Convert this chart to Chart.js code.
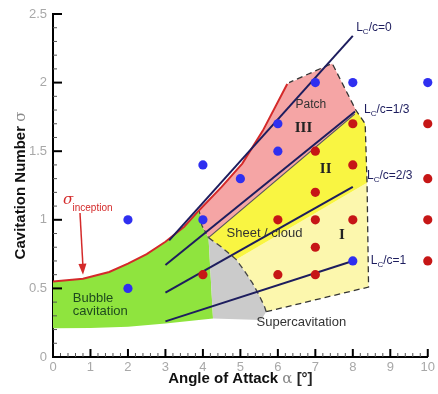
<!DOCTYPE html>
<html>
<head>
<meta charset="utf-8">
<script src="https://cdn.jsdelivr.net/npm/chart.js@4.4.1/dist/chart.umd.min.js"></script>
<style>
  body { margin: 0; background: #fff; }
  #wrap { width: 438px; height: 394px; }
</style>
</head>
<body>
<div id="wrap"><canvas id="chart"></canvas></div>
<script>
// measured points (angle of attack, sigma)
const bluePoints = [[2, 1.0], [2, 0.5], [4, 1.0], [4, 1.4], [5, 1.3], [6, 1.5], [6, 1.7],
                    [7, 2.0], [8, 2.0], [10, 2.0], [8, 0.7]];
const redPoints = [[4, 0.6], [6, 0.6], [7, 0.6], [7, 0.8], [6, 1.0], [7, 1.0], [8, 1.0], [10, 1.0],
                   [10, 0.7], [7, 1.2], [8, 1.4], [7, 1.5], [8, 1.7], [10, 1.7], [10, 1.3]];

// sigma inception curve
const inception = [[0, 0.55], [0.8, 0.57], [1.5, 0.62], [2, 0.68], [2.5, 0.75], [3, 0.84], [3.5, 0.95],
                   [3.9, 1.07], [4.5, 1.24], [5.05, 1.41], [5.6, 1.65], [6.25, 1.99]];

// constant cavity length lines
const lc0 = [[3.1, 0.85], [8.0, 2.34]];
const lc13 = [[3.0, 0.67], [8.06, 1.79]];
const lc23 = [[3.0, 0.47], [8.0, 1.24]];
const lc1 = [[3.0, 0.26], [8.0, 0.70]];

// regime areas
const bubbleArea = [[0, 0.21], [1, 0.212], [2, 0.22], [3, 0.245], [4.27, 0.28], [4.15, 0.87], [3.97, 0.96],
                    [3.9, 1.07], [3.5, 0.95], [3, 0.84], [2.5, 0.75], [2, 0.68], [1.5, 0.62], [0.8, 0.57], [0, 0.55], [0, 0.21]];
const grayArea = [[4.15, 0.87], [4.5, 0.80], [4.89, 0.71], [5.1, 0.63], [5.32, 0.54], [5.5, 0.45], [5.64, 0.37],
                  [5.69, 0.33], [5.55, 0.27], [4.27, 0.28], [4.15, 0.87]];
const sheetArea = [[4.89, 0.71], [8.38, 1.27], [8.42, 0.51], [5.69, 0.33], [5.64, 0.37], [5.5, 0.45],
                   [5.32, 0.54], [5.1, 0.63], [4.89, 0.71]];
const cloudArea = [[4.15, 0.87], [8.05, 1.77], [8.08, 1.80], [8.33, 1.70], [8.38, 1.27], [4.89, 0.71],
                   [4.5, 0.80], [4.15, 0.87]];
const patchArea = [[3.9, 1.07], [4.5, 1.24], [5.05, 1.41], [5.6, 1.65], [6.25, 1.99], [7.45, 2.14],
                   [8.08, 1.80], [8.05, 1.77], [4.15, 0.87], [3.97, 0.96], [3.9, 1.07]];

// dashed borders
const outerDash = [[5.69, 0.33], [8.42, 0.51], [8.38, 1.27], [8.33, 1.70], [8.08, 1.80], [7.45, 2.14], [6.3, 2.0]];
const arcDash = [[4.15, 0.87], [4.5, 0.80], [4.89, 0.71], [5.1, 0.63], [5.32, 0.54], [5.5, 0.45], [5.64, 0.37], [5.69, 0.33]];
const patchDash = [[3.9, 1.07], [3.97, 0.96], [4.15, 0.87]];
const cloudEdge = [[4.15, 0.87], [8.05, 1.77]];

const xTicks = [0, 10, 1];
const yTicks = [0, 2.5, 0.5];

const pts = a => a.map(([x, y]) => ({ x, y }));

function area(d, color, order) {
    return { data: pts(d), showLine: true, fill: 'shape', backgroundColor: color,
             borderColor: 'rgba(0,0,0,0)', borderWidth: 0, pointRadius: 0, tension: 0, order };
}
function line(d, color, width, order, dash) {
    return { data: pts(d), showLine: true, fill: false, borderColor: color, borderWidth: width,
             borderDash: dash || [], pointRadius: 0, tension: 0, order };
}
function dots(d, color) {
    return { data: pts(d), showLine: false, backgroundColor: color, borderWidth: 0,
             pointRadius: 4.6, clip: false, order: 0 };
}

const navy = '#1d1d5e';
const sans = "'Liberation Sans', Arial, sans-serif";

// labels, arrow, axis titles and ticks
const labelPlugin = {
    id: 'labels',
    afterDatasetsDraw(chart) {
        const { ctx } = chart;
        const X = v => chart.scales.x.getPixelForValue(v);
        const Y = v => chart.scales.y.getPixelForValue(v);
        const notes = [
            ['Bubble', 0.53, 0.43, '#1e4a1e', '13px ' + sans],
            ['cavitation', 0.53, 0.335, '#1e4a1e', '13px ' + sans],
            ['Sheet / cloud', 4.63, 0.90, '#333', '13px ' + sans],
            ['Supercavitation', 5.43, 0.25, '#333', '13px ' + sans],
            ['Patch', 6.47, 1.84, '#333', '12px ' + sans],
            ['III', 6.45, 1.67, '#222', 'bold 15px "Liberation Serif", serif'],
            ['II', 7.12, 1.37, '#222', 'bold 15px "Liberation Serif", serif'],
            ['I', 7.63, 0.89, '#222', 'bold 15px "Liberation Serif", serif']
        ];
        ctx.save();
        ctx.textBaseline = 'middle';
        ctx.textAlign = 'left';
        notes.forEach(([t, x, y, c, f]) => {
            ctx.font = f; ctx.fillStyle = c;
            ctx.fillText(t, X(x), Y(y));
        });
        [['0', 8.09, 2.40], ['1/3', 8.3, 1.80], ['2/3', 8.38, 1.32], ['1', 8.48, 0.70]].forEach(([t, x, y]) => {
            let px = X(x); const py = Y(y);
            ctx.fillStyle = navy;
            ctx.font = '12px ' + sans;
            ctx.fillText('L', px, py);
            px += ctx.measureText('L').width;
            ctx.font = '8px ' + sans;
            ctx.fillText('C', px, py + 4);
            px += ctx.measureText('C').width;
            ctx.font = '12px ' + sans;
            ctx.fillText('/c=' + t, px, py);
        });
        ctx.fillStyle = '#d42a2a';
        ctx.font = 'italic 15px "DejaVu Serif", serif';
        ctx.fillText('σ', X(0.27), Y(1.14));
        ctx.font = '10px ' + sans;
        ctx.fillText('inception', X(0.52), Y(1.085));
        const x1 = X(0.72), y1 = Y(1.05), x2 = X(0.8), y2 = Y(0.6);
        ctx.strokeStyle = '#d42a2a'; ctx.lineWidth = 1.5;
        ctx.beginPath(); ctx.moveTo(x1, y1); ctx.lineTo(x2, y2 - 8); ctx.stroke();
        const a = Math.atan2(y2 - y1, x2 - x1);
        ctx.beginPath();
        ctx.moveTo(x2, y2);
        ctx.lineTo(x2 - 11 * Math.cos(a) + 4 * Math.sin(a), y2 - 11 * Math.sin(a) - 4 * Math.cos(a));
        ctx.lineTo(x2 - 11 * Math.cos(a) - 4 * Math.sin(a), y2 - 11 * Math.sin(a) + 4 * Math.cos(a));
        ctx.closePath(); ctx.fill();
        ctx.restore();
    },
    afterDraw(chart) {
        const { ctx, chartArea: ca } = chart;
        const xs = chart.scales.x, ys = chart.scales.y;
        ctx.save();
        for (let i = 0; i <= 50; i++) {
            const px = xs.getPixelForValue(i * 0.2), major = i % 5 === 0;
            ctx.strokeStyle = major ? '#000' : '#555'; ctx.lineWidth = major ? 2 : 1;
            ctx.beginPath(); ctx.moveTo(px, ca.bottom); ctx.lineTo(px, ca.bottom - (major ? 8 : 4)); ctx.stroke();
        }
        for (let i = 0; i <= 25; i++) {
            const py = ys.getPixelForValue(i * 0.1), major = i % 5 === 0;
            ctx.strokeStyle = major ? '#000' : '#555'; ctx.lineWidth = major ? 2 : 1;
            ctx.beginPath(); ctx.moveTo(ca.left, py); ctx.lineTo(ca.left + (major ? 9 : 4), py); ctx.stroke();
        }
        // axis titles: bold words, lighter greek symbol
        const title = (parts, cx, cy, rot) => {
            ctx.save();
            ctx.translate(cx, cy); ctx.rotate(rot);
            ctx.textBaseline = 'alphabetic'; ctx.textAlign = 'left';
            let w = 0;
            parts.forEach(([t, f]) => { ctx.font = f; w += ctx.measureText(t).width; });
            let p = -w / 2;
            parts.forEach(([t, f, c]) => {
                ctx.font = f; ctx.fillStyle = c;
                ctx.fillText(t, p, 0);
                p += ctx.measureText(t).width;
            });
            ctx.restore();
        };
        const bold = 'bold 15px ' + sans;
        title([['Angle of Attack ', bold, '#111'], ['α', '15px "DejaVu Serif", serif', '#888'], [' [°]', bold, '#222']],
              (ca.left + ca.right) / 2, 383, 0);
        title([['Cavitation Number ', bold, '#111'], ['σ', '15px "DejaVu Serif", serif', '#888']],
              25, (ca.top + ca.bottom) / 2, -Math.PI / 2);
        ctx.restore();
    }
};

Chart.defaults.font.family = sans;

new Chart(document.getElementById('chart'), {
    type: 'scatter',
    data: {
        datasets: [
            area(bubbleArea, '#8fe43e', 20),
            area(grayArea, '#cbcbcb', 19),
            area(sheetArea, '#fcf7ad', 18),
            area(cloudArea, '#f9f542', 17),
            area(patchArea, '#f5a5a5', 16),
            line(outerDash, '#333', 1.3, 10, [6, 4]),
            line(arcDash, '#444', 1.3, 10, [6, 4]),
            line(patchDash, '#444', 1.2, 10, [4, 3]),
            line(cloudEdge, '#555', 1.2, 10),
            line(inception, '#d42a2a', 2, 8),
            line(lc0, navy, 2, 5),
            line(lc13, navy, 2, 5),
            line(lc23, navy, 2, 5),
            line(lc1, navy, 2, 5),
            dots(bluePoints, '#2f2ff0'),
            dots(redPoints, '#c61616')
        ]
    },
    options: {
        responsive: true,
        maintainAspectRatio: false,
        animation: false,
        layout: { padding: { top: 14, right: 9, left: 0, bottom: 0 } },
        plugins: { legend: { display: false }, tooltip: { enabled: false } },
        scales: {
            x: {
                type: 'linear', position: 'bottom', min: xTicks[0], max: xTicks[1], z: 1,
                grid: { display: false, drawTicks: false },
                border: { display: true, color: '#000', width: 2 },
                ticks: { stepSize: xTicks[2], padding: 3, color: '#a8a8a8', font: { size: 13 } },
                afterFit: s => { s.height = 37; }
            },
            y: {
                type: 'linear', min: yTicks[0], max: yTicks[1], z: 1,
                grid: { display: false, drawTicks: false },
                border: { display: true, color: '#000', width: 2 },
                ticks: { stepSize: yTicks[2], padding: 6, color: '#a8a8a8', font: { size: 13 },
                         callback: v => String(Number(v.toFixed(1))) },
                afterFit: s => { s.width = 53; }
            }
        }
    },
    plugins: [labelPlugin]
});
</script>
</body>
</html>
